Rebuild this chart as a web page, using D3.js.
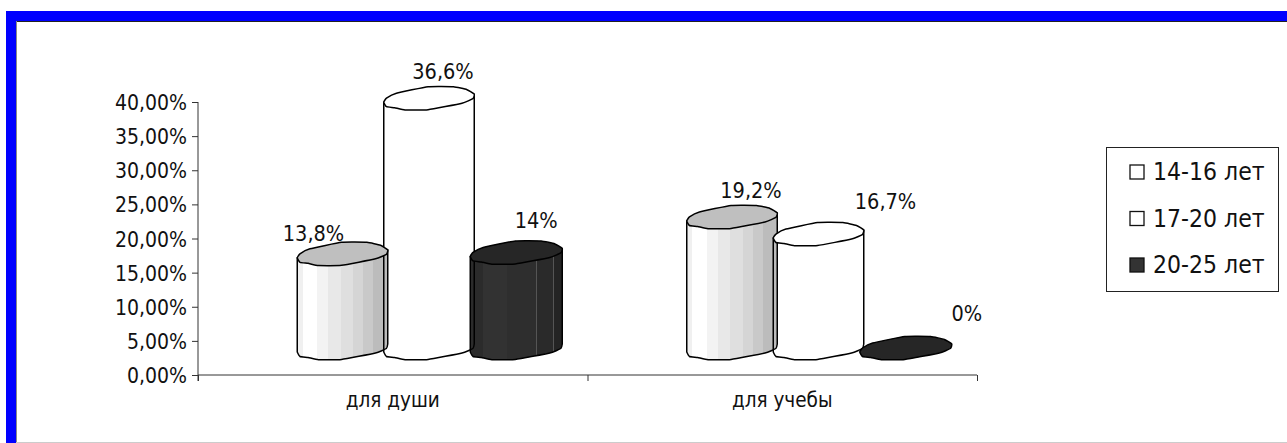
<!DOCTYPE html>
<html>
<head>
<meta charset="utf-8">
<script src="https://cdn.jsdelivr.net/npm/d3@7"></script>
<style>
  html, body { margin: 0; padding: 0; background: #fff; overflow: hidden; }
  text { font-family: "DejaVu Sans Condensed", "DejaVu Sans", sans-serif; font-stretch: condensed; fill: #111; }
</style>
</head>
<body>
<svg id="chart" width="1287" height="443"></svg>
<script>
const categories = ["для души", "для учебы"];
const seriesNames = ["14-16 лет", "17-20 лет", "20-25 лет"];
const series1 = [13.8, 19.2];
const series2 = [36.6, 16.7];
const series3 = [14, 0];
const labels1 = ["13,8%", "19,2%"];
const labels2 = ["36,6%", "16,7%"];
const labels3 = ["14%", "0%"];
const yTicks = [0, 5, 10, 15, 20, 25, 30, 35, 40];

// hand placed data labels, px from the middle of the cap
const nudge1 = [[-29, -20], [19, -26]];
const nudge2 = [[14, -27], [67, -33]];
const nudge3 = [[20, -32], [61, -35]];

// outline of the cylinder top, x as share of the width, y in px from the centre
const capBack = [[0.03, 0], [0.14, -5], [0.49, -11.5], [0.77, -11.5], [0.92, -8.5]];
const capFront = [[1, -4], [0.985, 0.5], [0.865, 5], [0.49, 11.5], [0.235, 11.7], [0.12, 9.5], [0.03, 8.5], [0, 4]];

const svg = d3.select("#chart");
const defs = svg.append("defs");

function stripes(id, stops) {
  const g = defs.append("linearGradient").attr("id", id);
  stops.forEach(s => {
    g.append("stop").attr("offset", s[0]).attr("stop-color", s[2]);
    g.append("stop").attr("offset", s[1]).attr("stop-color", s[2]);
  });
}
stripes("light", [[0, 0.06, "#f0f0f0"], [0.06, 0.22, "#ffffff"], [0.22, 0.34, "#f3f3f3"], [0.34, 0.48, "#e8e8e8"],
  [0.48, 0.62, "#dfdfdf"], [0.62, 0.73, "#d5d5d5"], [0.73, 0.84, "#c9c9c9"], [0.84, 1, "#bcbcbc"]]);
stripes("dark", [[0, 0.135, "#2b2b2b"], [0.135, 0.14, "#555555"], [0.14, 0.4, "#323232"], [0.4, 0.72, "#2e2e2e"],
  [0.72, 0.725, "#555555"], [0.725, 0.9, "#2a2a2a"], [0.9, 0.905, "#555555"], [0.905, 1, "#242424"]]);

const y = d3.scaleLinear().domain([0, 40]).range([375, 102]);
const x0 = d3.scaleBand().domain(categories).range([198, 977]);
const x1 = d3.scalePoint().domain(seriesNames).range([-95.5, 77.5]);

// the 3D floor sits above the flat axis
const depthY = -27;
const barW = 90.5;

const rows = [
  { name: seriesNames[1], values: series2, labels: labels2, nudge: nudge2, body: "#fff", cap: "#fff", w: barW },
  { name: seriesNames[0], values: series1, labels: labels1, nudge: nudge1, body: "url(#light)", cap: "#bfbfbf", w: barW },
  { name: seriesNames[2], values: series3, labels: labels3, nudge: nudge3, body: "url(#dark)", cap: "#262626", w: 92 }
];

const capLine = d3.line().curve(d3.curveCardinalClosed.tension(0.6));
const frontLine = d3.line().curve(d3.curveCardinal.tension(0.6));

const bars = [];
rows.forEach(r => {
  categories.forEach((c, i) => {
    const left = x0(c) + x0.bandwidth() / 2 + x1(r.name);
    const at = p => left + p[0] * r.w;
    const top = y(r.values[i]) + depthY;
    const bottom = y(0) + depthY;
    const cap = capBack.concat(capFront).map(p => [at(p), top + p[1]]);
    const front = capFront.map(p => [at(p), bottom + p[1]]);
    const end = capFront[capFront.length - 1];
    const body = frontLine(front) + `L${at(end)},${top + end[1]}L${at(capFront[0])},${top + capFront[0][1]}Z`;
    bars.push({ r, i, cap, body, mid: left + r.w / 2, top });
  });
});

const plot = svg.append("g");

// axes under the bars
const yAxis = d3.axisLeft(y).tickValues(yTicks).tickSize(6).tickPadding(5)
  .tickFormat(d => d3.format(".2f")(d).replace(".", ",") + "%");
const xAxis = d3.axisBottom(d3.scaleLinear().domain([0, 2]).range([198, 977]))
  .tickValues([0, 1, 2]).tickSize(6).tickFormat("");
const yG = plot.append("g").attr("transform", "translate(198,0)").call(yAxis);
const xG = plot.append("g").attr("transform", "translate(0,375)").call(xAxis);
yG.selectAll("text").style("font-size", "21px").attr("dy", "0.36em").attr("fill", "#111");
[yG, xG].forEach(g => g.selectAll("path,line").attr("stroke", "#333").attr("stroke-width", 1));
yG.select("path").attr("d", `M0,${y(40)}V${y(0) + 6}`);
xG.select("path").attr("d", "M198,0H977");

plot.selectAll(".catLabel").data(categories).join("text")
  .attr("class", "catLabel")
  .attr("x", d => x0(d) + x0.bandwidth() / 2)
  .attr("y", 407)
  .attr("text-anchor", "middle")
  .style("font-size", "20.5px")
  .text(d => d);

const solid = bars.filter(b => b.r.values[b.i] > 0);
plot.selectAll(".body").data(solid).join("path")
  .attr("class", "body").attr("d", d => d.body).attr("fill", d => d.r.body).attr("stroke", "none");
plot.selectAll(".edge").data(solid).join("path")
  .attr("class", "edge").attr("d", d => d.body).attr("fill", "none")
  .attr("stroke", "#000").attr("stroke-width", 1.5).attr("stroke-linejoin", "round");
plot.selectAll(".cap").data(bars).join("path")
  .attr("class", "cap").attr("d", d => capLine(d.cap)).attr("fill", d => d.r.cap)
  .attr("stroke", "#000").attr("stroke-width", 1.5).attr("stroke-linejoin", "round");

plot.selectAll(".valLabel").data(bars).join("text")
  .attr("class", "valLabel")
  .attr("x", d => d.mid + d.r.nudge[d.i][0])
  .attr("y", d => d.top + d.r.nudge[d.i][1])
  .attr("dy", "0.35em")
  .attr("text-anchor", "middle")
  .style("font-size", "21.5px")
  .text(d => d.r.labels[d.i]);

// legend
const legendY = d3.scalePoint().domain(seriesNames).range([172, 265]);
const legendFill = d3.scaleOrdinal().domain(seriesNames).range(["#fff", "#fff", "#333"]);
const legend = svg.append("g");
legend.append("rect").attr("x", 1106.5).attr("y", 147.5).attr("width", 172).attr("height", 144)
  .attr("fill", "#fff").attr("stroke", "#222").attr("stroke-width", 1);
const item = legend.selectAll("g").data(seriesNames).join("g")
  .attr("transform", d => `translate(0,${legendY(d)})`);
item.append("rect").attr("x", 1130).attr("y", -7).attr("width", 14).attr("height", 14)
  .attr("fill", d => legendFill(d)).attr("stroke", "#111").attr("stroke-width", 1.3);
item.append("text").attr("x", 1153).attr("y", 8).style("font-size", "24.5px").text(d => d);

// blue frame around the sheet
const frame = svg.append("g");
frame.append("rect").attr("x", 6).attr("y", 11).attr("width", 1281).attr("height", 10).attr("fill", "#0000ff");
frame.append("rect").attr("x", 6).attr("y", 11).attr("width", 10).attr("height", 432).attr("fill", "#0000ff");
frame.append("line").attr("x1", 16).attr("x2", 1287).attr("y1", 21.5).attr("y2", 21.5).attr("stroke", "#222");
frame.append("line").attr("x1", 16.5).attr("x2", 16.5).attr("y1", 21).attr("y2", 443).attr("stroke", "#888");
frame.append("line").attr("x1", 16).attr("x2", 1287).attr("y1", 442.5).attr("y2", 442.5).attr("stroke", "#ccc");
</script>
</body>
</html>
